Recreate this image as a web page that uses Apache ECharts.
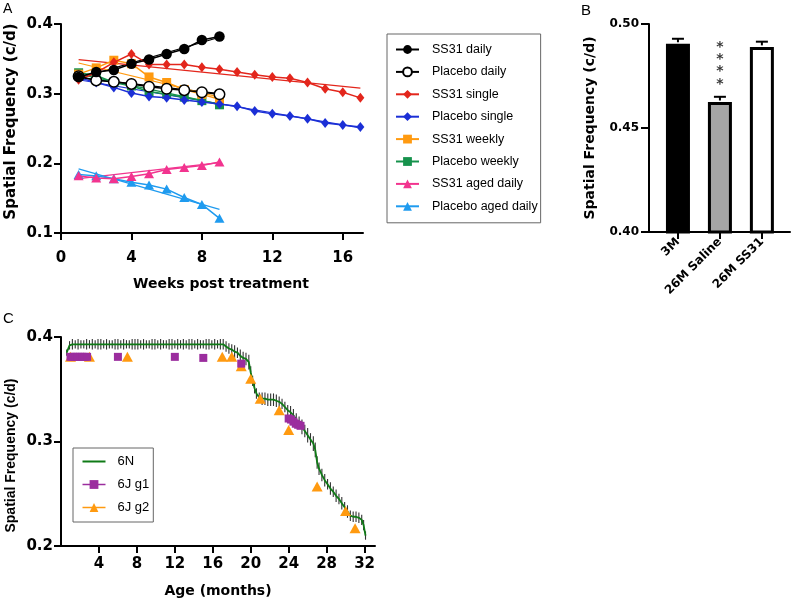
<!DOCTYPE html>
<html><head><meta charset="utf-8">
<script src="https://cdn.jsdelivr.net/npm/echarts@6/dist/echarts.min.js"></script>
<style>html,body{margin:0;padding:0;background:#fff}#c{width:791px;height:606px}</style>
</head><body><div id="c"></div>
<script>
// ---------- Panel A ----------
const weeksA = [1,2,3,4,5,6,7,8,9,10,11,12,13,14,15,16,17];
const ss31Daily     = [0.324,0.331,0.334,0.343,0.349,0.357,0.364,0.377,0.382];
const placeboDaily  = [0.325,0.319,0.317,0.314,0.310,0.307,0.305,0.302,0.299];
const ss31Single    = [0.320,0.330,0.345,0.357,0.342,0.342,0.342,0.338,0.335,0.331,0.327,0.324,0.322,0.316,0.307,0.302,0.294];
const placeboSingle = [0.323,0.316,0.309,0.301,0.296,0.294,0.291,0.288,0.285,0.282,0.275,0.271,0.268,0.264,0.258,0.255,0.252];
const ss31Weekly    = [0.328,0.337,0.348,0.343,0.324,0.316,0.306,0.299,0.292];
const placeboWeekly = [0.330,0.326,0.316,0.311,0.303,0.299,0.295,0.290,0.284];
const ss31Aged      = [0.182,0.179,0.178,0.181,0.185,0.191,0.194,0.197,0.202];
const placeboAged   = [0.184,0.182,0.178,0.173,0.169,0.163,0.151,0.141,0.121];
// fitted lines: [startWeek, startValue, endWeek, endValue]
const fitSS31Daily     = [1,0.322,9,0.381];
const fitPlaceboDaily  = [1,0.323,9,0.300];
const fitSS31Single    = [1,0.349,17,0.308];
const fitPlaceboSingle = [1,0.320,17,0.251];
const fitSS31Weekly    = [1,0.344,9,0.295];
const fitPlaceboWeekly = [1,0.328,9,0.285];
const fitSS31Aged      = [1,0.178,9,0.201];
const fitPlaceboAged   = [1,0.192,9,0.134];
const ticksAx = [0,4,8,12,16];
const ticksAy = [0.1,0.2,0.3,0.4];

// ---------- Panel B ----------
const groupsB = ['3M','26M Saline','26M SS31'];
const meanB = [0.4905,0.4625,0.489];
const semB  = [0.0024,0.0025,0.0025];
const starsB = ['','*\n*\n*\n*',''];
const starsYB = 0.4800;
const ticksBy = [0.40,0.45,0.50];

// ---------- Panel C ----------
const ages6N = [0.6,0.9,1.2,1.5,1.8,2.1,2.4,2.7,3.0,3.3,3.6,3.9,4.2,4.5,4.8,5.1,5.4,5.7,6.0,6.3,6.6,6.9,7.2,7.5,7.8,8.1,8.4,8.7,9.0,9.3,9.6,9.9,10.2,10.5,10.8,11.1,11.4,11.7,12.0,12.3,12.6,12.9,13.2,13.5,13.8,14.1,14.4,14.7,15.0,15.3,15.6,15.9,16.2,16.5,16.8,17.1,
  17.4,17.7,18.0,18.3,18.6,18.9,19.2,19.5,19.8,20.0,20.2,20.4,20.6,20.9,21.2,21.5,21.8,22.1,22.4,22.7,23.0,23.3,23.6,23.9,24.2,24.5,24.8,25.1,25.4,25.7,26.0,26.3,26.6,26.8,27.0,27.2,27.5,27.8,28.1,28.4,28.7,29.0,29.3,29.6,29.9,30.2,30.5,30.8,31.1,31.4,31.7,31.9,32.1];
const sf6N = [0.385,0.392,0.393,0.393,0.393,0.393,0.393,0.393,0.393,0.393,0.393,0.393,0.393,0.393,0.393,0.393,0.393,0.393,0.393,0.393,0.393,0.393,0.393,0.393,0.393,0.393,0.393,0.393,0.393,0.393,0.393,0.393,0.393,0.393,0.393,0.393,0.393,0.393,0.393,0.393,0.393,0.393,0.393,0.393,0.393,0.393,0.393,0.393,0.393,0.393,0.393,0.393,0.393,0.393,0.393,0.393,
  0.391,0.389,0.388,0.386,0.385,0.382,0.380,0.379,0.376,0.366,0.358,0.351,0.346,0.342,0.341,0.341,0.340,0.340,0.340,0.339,0.338,0.336,0.333,0.330,0.328,0.325,0.321,0.318,0.314,0.310,0.306,0.302,0.298,0.292,0.280,0.274,0.268,0.263,0.259,0.255,0.252,0.248,0.245,0.241,0.237,0.233,0.229,0.228,0.228,0.227,0.225,0.220,0.210];
const sem6N = [0.003,0.004,0.005,0.004,0.005,0.004,0.004,0.005,0.004,0.005,0.004,0.005,0.005,0.004,0.005,0.004,0.004,0.005,0.005,0.004,0.005,0.004,0.004,0.005,0.005,0.005,0.004,0.005,0.004,0.004,0.005,0.005,0.004,0.005,0.004,0.004,0.005,0.005,0.004,0.005,0.004,0.005,0.004,0.005,0.005,0.004,0.005,0.004,0.004,0.005,0.005,0.004,0.005,0.004,0.005,0.005,
  0.005,0.005,0.005,0.006,0.005,0.006,0.006,0.006,0.007,0.006,0.005,0.005,0.005,0.005,0.006,0.006,0.006,0.006,0.006,0.006,0.005,0.005,0.005,0.005,0.006,0.006,0.006,0.006,0.007,0.006,0.007,0.006,0.007,0.007,0.006,0.006,0.006,0.006,0.005,0.006,0.005,0.006,0.005,0.006,0.005,0.006,0.005,0.005,0.005,0.005,0.005,0.005,0.004];
const agesG1 = [1,1.25,1.5,1.75,2,2.25,2.5,2.75,6,12,15,19,24,24.25,24.5,24.75,25,25.25];
const sfG1   = [0.381,0.381,0.381,0.381,0.381,0.381,0.381,0.381,0.381,0.381,0.380,0.3745,0.322,0.321,0.319,0.317,0.316,0.315];
const agesG2 = [1,3,7,17,18,19,20,21,23,24,27,30,31];
const sfG2   = [0.381,0.381,0.381,0.381,0.381,0.372,0.360,0.341,0.330,0.311,0.257,0.2335,0.217];
const ticksCx = [4,8,12,16,20,24,28,32];
const ticksCy = [0.2,0.3,0.4];

// ---------- helpers ----------
const zip = (xs, ys) => ys.map((y,i)=>[xs[i], y]);
const fitData = f => [[f[0],f[1]],[f[2],f[3]]];
const BOLD = 'DejaVu Sans';
const axisLineS = {show:true, lineStyle:{color:'#000', width:2}};
const tickS = (vals,len)=>({show:true, customValues:vals, length:len, lineStyle:{color:'#000', width:2}});
const lblS = (vals,size,margin,fmt)=>({customValues:vals, fontFamily:BOLD, fontWeight:'bold', fontSize:size, color:'#000', margin:margin, formatter:fmt});
const nameS = (size,pad,fam)=>({fontFamily:fam||BOLD, fontWeight:'bold', fontSize:size, color:'#000', padding:pad||0});

const colA = {
  'SS31 daily':'#000000','Placebo daily':'#000000','SS31 single':'#e3261c','Placebo single':'#1b2fd6',
  'SS31 weekly':'#ff9a10','Placebo weekly':'#16924c','SS31 aged daily':'#f2348f','Placebo aged daily':'#1f9bef'
};
function dataSeries(name, vals, symbol, size, z, extraItem){
  return {name, type:'line', xAxisIndex:0, yAxisIndex:0, data:zip(weeksA, vals), symbol, symbolSize:size, z:z,
    lineStyle:{color:colA[name], width:1.5}, itemStyle:Object.assign({color:colA[name]}, extraItem||{}), emphasis:{disabled:true}};
}
function fitSeries(name, f){
  return {name:name+' fit', type:'line', xAxisIndex:0, yAxisIndex:0, data:fitData(f), symbol:'none', z:1,
    lineStyle:{color:colA[name], width:1.2}, emphasis:{disabled:true}};
}

const legendNamesA = Object.keys(colA);

const option = {
  animation:false,
  backgroundColor:'#fff',
  textStyle:{fontFamily:'Liberation Sans'},
  grid:[
    {left:61, top:24, width:302, height:209, outerBoundsMode:'none', containLabel:false},
    {left:649, top:24, width:141, height:208, outerBoundsMode:'none', containLabel:false},
    {left:61, top:337, width:314, height:209, outerBoundsMode:'none', containLabel:false}
  ],
  xAxis:[
    {gridIndex:0, type:'value', min:0, max:17.15, axisLine:axisLineS, axisTick:tickS(ticksAx,7),
     axisLabel:lblS(ticksAx,15,18), splitLine:{show:false},
     name:'Weeks post treatment', nameLocation:'middle', nameGap:44, nameTextStyle:nameS(14,[0,0,0,18])},
    {gridIndex:1, type:'value', min:0.31, max:3.67, axisLine:axisLineS, axisTick:tickS([1,2,3],7),
     axisLabel:Object.assign(lblS([1,2,3],12,8,v=>groupsB[Math.round(v)-1]),{rotate:45}), splitLine:{show:false}},
    {gridIndex:2, type:'value', min:0, max:33.1, axisLine:axisLineS, axisTick:tickS(ticksCx,7),
     axisLabel:lblS(ticksCx,15,11), splitLine:{show:false},
     name:'Age (months)', nameLocation:'middle', nameGap:38, nameTextStyle:nameS(14)}
  ],
  yAxis:[
    {gridIndex:0, type:'value', min:0.1, max:0.4, axisLine:axisLineS, axisTick:tickS(ticksAy,7),
     axisLabel:lblS(ticksAy,15,8,v=>v.toFixed(1)), splitLine:{show:false},
     name:'Spatial Frequency (c/d)', nameLocation:'middle', nameGap:42, nameTextStyle:nameS(15,[0,0,0,14])},
    {gridIndex:1, type:'value', min:0.40, max:0.50, axisLine:axisLineS, axisTick:tickS(ticksBy,8),
     axisLabel:lblS(ticksBy,12,10,v=>v.toFixed(2)), splitLine:{show:false},
     name:'Spatial Frequency (c/d)', nameLocation:'middle', nameGap:52, nameTextStyle:nameS(14)},
    {gridIndex:2, type:'value', min:0.2, max:0.4, axisLine:axisLineS, axisTick:tickS(ticksCy,7),
     axisLabel:lblS(ticksCy,15,8,v=>v.toFixed(1)), splitLine:{show:false},
     name:'Spatial Frequency (c/d)', nameLocation:'middle', nameGap:43, nameTextStyle:nameS(14,[0,28,0,0],'Liberation Sans')}
  ],
  legend:[
    {data:legendNamesA, orient:'vertical', left:387, top:34, itemWidth:23, itemHeight:11, itemGap:9.4,
     padding:[9,3,10,8], borderColor:'#666', borderWidth:1, selectedMode:false,
     textStyle:{fontFamily:'Liberation Sans', fontSize:12.5, color:'#000', lineHeight:11, padding:[0,0,0,8]}},
    {data:[{name:'6N', itemStyle:{opacity:0}},{name:'6J g1', lineStyle:{opacity:1, width:1.5}},{name:'6J g2', lineStyle:{opacity:1, width:1.5}}],
     orient:'vertical', left:73, top:448, itemWidth:23, itemHeight:11, itemGap:10,
     padding:[7,4,8,8.5], borderColor:'#666', borderWidth:1, selectedMode:false,
     textStyle:{fontFamily:'Liberation Sans', fontSize:13, color:'#000', lineHeight:11, padding:[0,0,0,7]}}
  ],
  graphic:[
    {type:'text', left:3, top:2, style:{text:'A', font:'14px Liberation Sans', fill:'#000'}},
    {type:'text', left:581, top:3, style:{text:'B', font:'15px Liberation Sans', fill:'#000'}},
    {type:'text', left:3, top:311, style:{text:'C', font:'15px Liberation Sans', fill:'#000'}}
  ],
  series:[
    fitSeries('SS31 daily', fitSS31Daily),
    fitSeries('Placebo daily', fitPlaceboDaily),
    fitSeries('SS31 single', fitSS31Single),
    fitSeries('Placebo single', fitPlaceboSingle),
    fitSeries('SS31 weekly', fitSS31Weekly),
    fitSeries('Placebo weekly', fitPlaceboWeekly),
    fitSeries('SS31 aged daily', fitSS31Aged),
    fitSeries('Placebo aged daily', fitPlaceboAged),
    dataSeries('SS31 daily', ss31Daily, 'circle', 10.5, 20),
    dataSeries('Placebo daily', placeboDaily, 'circle', 10.5, 19, {color:'#fff', borderColor:'#000', borderWidth:1.5}),
    dataSeries('SS31 single', ss31Single, 'diamond', [8,10], 18),
    dataSeries('Placebo single', placeboSingle, 'diamond', [8,10], 17),
    dataSeries('SS31 weekly', ss31Weekly, 'rect', 9, 16),
    dataSeries('Placebo weekly', placeboWeekly, 'rect', 9, 15),
    dataSeries('SS31 aged daily', ss31Aged, 'triangle', [10,9], 14),
    dataSeries('Placebo aged daily', placeboAged, 'triangle', [10,9], 13),

    // Panel B bars
    {name:'B bars', type:'bar', xAxisIndex:1, yAxisIndex:1, barWidth:24, z:2,
     data: meanB.map((v,i)=>({value:[i+1, v], itemStyle:{color:['#000','#a6a6a6','#fff'][i], borderColor:'#000', borderWidth:3}}))},
    {name:'B err', type:'custom', xAxisIndex:1, yAxisIndex:1, z:3,
     data: meanB.map((v,i)=>[i+1, v, semB[i]]),
     renderItem:(params, api)=>{
       const x=api.value(0), y=api.value(1), e=api.value(2);
       const p0=api.coord([x,y]), p1=api.coord([x,y+e]);
       return {type:'group', children:[
         {type:'line', shape:{x1:p0[0],y1:p0[1]-1.5,x2:p1[0],y2:p1[1]}, style:{stroke:'#000', lineWidth:2}},
         {type:'line', shape:{x1:p1[0]-6,y1:p1[1],x2:p1[0]+6,y2:p1[1]}, style:{stroke:'#000', lineWidth:2}}
       ]};
     }},
    {name:'B stars', type:'scatter', xAxisIndex:1, yAxisIndex:1, symbolSize:0, z:4,
     data: meanB.map((v,i)=>[i+1, starsYB]),
     label:{show:true, position:'inside', formatter:p=>starsB[p.dataIndex], fontFamily:'DejaVu Sans', fontWeight:'bold', fontSize:14, lineHeight:12.3, color:'#000'}},

    // Panel C
    {name:'6N err', type:'custom', xAxisIndex:2, yAxisIndex:2, z:2,
     data: ages6N.map((a,i)=>[a, sf6N[i], sem6N[i]]),
     renderItem:(params, api)=>{
       const x=api.value(0), y=api.value(1), e=api.value(2);
       const p0=api.coord([x,y-e]), p1=api.coord([x,y+e]);
       return {type:'line', shape:{x1:p0[0],y1:p0[1],x2:p1[0],y2:p1[1]}, style:{stroke:'#333', lineWidth:1.1}};
     }},
    {name:'6N', type:'line', xAxisIndex:2, yAxisIndex:2, data:zip(ages6N, sf6N), symbol:'none', z:3,
     lineStyle:{color:'#0f7a16', width:1.8}, itemStyle:{color:'#0f7a16'}},
    {name:'6J g2', type:'line', xAxisIndex:2, yAxisIndex:2, data:zip(agesG2, sfG2), symbol:'triangle', symbolSize:[11,10], z:4,
     lineStyle:{color:'#ff9a10', width:1.5, opacity:0}, itemStyle:{color:'#ff9a10'}},
    {name:'6J g1', type:'line', xAxisIndex:2, yAxisIndex:2, data:zip(agesG1, sfG1), symbol:'rect', symbolSize:8, z:5,
     lineStyle:{color:'#9b2d9e', width:1.5, opacity:0}, itemStyle:{color:'#9b2d9e'}}
  ]
};
const chart = echarts.init(document.getElementById('c'), null, {renderer:'canvas'});
chart.setOption(option);
</script>
</body></html>
